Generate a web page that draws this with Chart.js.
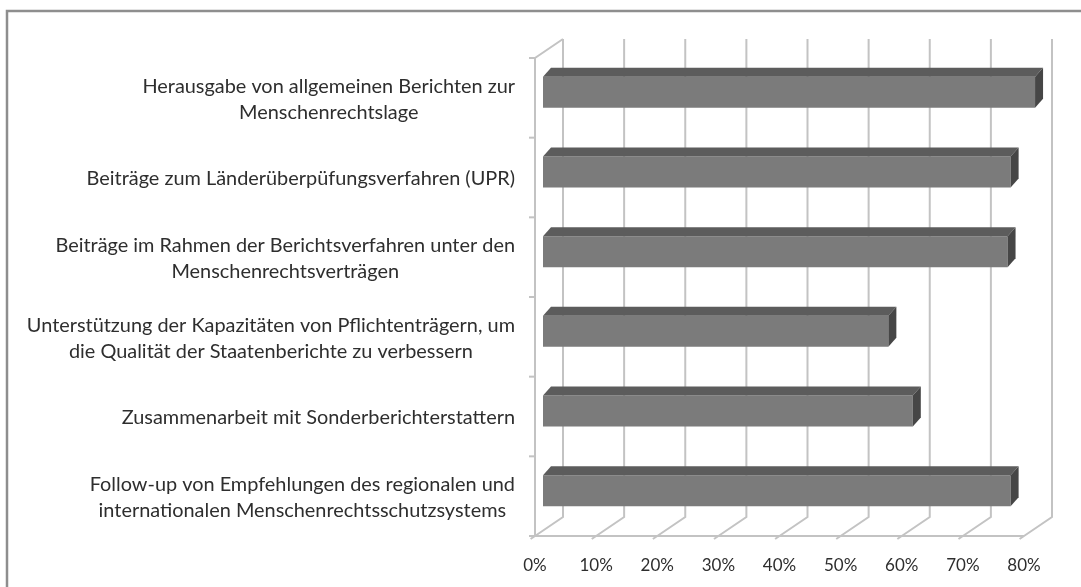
<!DOCTYPE html>
<html><head><meta charset="utf-8">
<script src="https://cdn.jsdelivr.net/npm/chart.js@4.4.0/dist/chart.umd.min.js"></script>
<style>html,body{margin:0;padding:0;background:#fff;} #wrap{position:relative;width:1081px;height:587px;}</style>
</head><body><div id="wrap"><canvas id="c"></canvas></div>
<script>
// ---- data ----
const categories = [
  ["Herausgabe von allgemeinen Berichten zur", "Menschenrechtslage"],
  ["Beiträge zum Länderüberpüfungsverfahren (UPR)"],
  ["Beiträge im Rahmen der Berichtsverfahren unter den", "Menschenrechtsverträgen"],
  ["Unterstützung der Kapazitäten von Pflichtenträgern, um", "die Qualität der Staatenberichte zu verbessern"],
  ["Zusammenarbeit mit Sonderberichterstattern"],
  ["Follow-up von Empfehlungen des regionalen und", "internationalen Menschenrechtsschutzsystems"]
];
const shares = [80.5, 76.5, 76, 56.5, 60.5, 76.5];
const tickValues = [0, 10, 20, 30, 40, 50, 60, 70, 80];
const tickLabels = ["0%", "10%", "20%", "30%", "40%", "50%", "60%", "70%", "80%"];

// ---- geometry / style ----
const FAMILY = 'Lato, "Open Sans", sans-serif';
const FRONT = {x: -8, y: 5.5};     // front plane offset from bar plane
const DEPTH = {x: 28, y: -19};     // full depth of the 3D box
const BARD = {x: 8, y: -9};        // bar depth
const GRID = '#c3c3c3';
const TEXT = '#2e2e2e';

// fit category font so the widest single-line label matches reference width
const mc = document.createElement('canvas').getContext('2d');
mc.font = '100px ' + FAMILY;
const fitW = mc.measureText(categories[1][0]).width;
const CAT_SIZE = Math.round(100 * 429 / fitW * 10) / 10;

const threeD = {
  id: 'threeD',
  beforeDraw(chart) {
    const ctx = chart.ctx;
    ctx.save();
    ctx.strokeStyle = '#8e8e8e';
    ctx.lineWidth = 2.5;
    ctx.beginPath();
    ctx.moveTo(7, 590); ctx.lineTo(7, 11); ctx.lineTo(1085, 11);
    ctx.stroke();
    ctx.restore();
  },
  beforeDatasetsDraw(chart) {
    const {ctx, chartArea: a, scales: {x, y}} = chart;
    ctx.save();
    ctx.strokeStyle = GRID;
    ctx.lineWidth = 2;
    const topB = a.top + FRONT.y + DEPTH.y;
    const botB = a.bottom + FRONT.y + DEPTH.y;
    const botF = a.bottom + FRONT.y;
    tickValues.forEach(v => {
      const px = x.getPixelForValue(v);
      ctx.beginPath();
      ctx.moveTo(px + FRONT.x + DEPTH.x, topB);
      ctx.lineTo(px + FRONT.x + DEPTH.x, botB);
      ctx.lineTo(px + FRONT.x, botF);
      ctx.lineTo(px + FRONT.x - 4.4, botF + 3);
      ctx.stroke();
    });
    // front floor edge
    const x0 = x.getPixelForValue(tickValues[0]) + FRONT.x;
    const x1 = x.getPixelForValue(tickValues[tickValues.length - 1]) + FRONT.x;
    ctx.beginPath();
    ctx.moveTo(x0, botF); ctx.lineTo(x1, botF);
    ctx.stroke();
    // left wall front edge and top
    const topF = a.top + FRONT.y;
    ctx.beginPath();
    ctx.moveTo(x0, botF); ctx.lineTo(x0, topF); ctx.lineTo(x0 + DEPTH.x, topB);
    ctx.stroke();
    // category boundary ticks
    const n = categories.length;
    const band = (a.bottom - a.top) / n;
    for (let k = 0; k <= n; k++) {
      const yb = a.top + k * band + FRONT.y;
      ctx.beginPath();
      ctx.moveTo(x0 - 6, yb); ctx.lineTo(x0, yb);
      ctx.stroke();
    }
    ctx.restore();
  },
  afterDatasetsDraw(chart) {
    const {ctx, scales: {y}} = chart;
    const meta = chart.getDatasetMeta(0);
    ctx.save();
    meta.data.forEach(el => {
      const {x: xe, y: yc, base, height} = el.getProps(['x', 'y', 'base', 'height'], true);
      const top = yc - height / 2, bot = yc + height / 2;
      // top face
      ctx.fillStyle = '#5c5c5c';
      ctx.beginPath();
      ctx.moveTo(base, top); ctx.lineTo(xe, top);
      ctx.lineTo(xe + BARD.x, top + BARD.y); ctx.lineTo(base + BARD.x, top + BARD.y);
      ctx.closePath(); ctx.fill();
      // side face
      ctx.fillStyle = '#464646';
      ctx.beginPath();
      ctx.moveTo(xe, top); ctx.lineTo(xe + BARD.x, top + BARD.y);
      ctx.lineTo(xe + BARD.x, bot + BARD.y); ctx.lineTo(xe, bot);
      ctx.closePath(); ctx.fill();
    });
    // category labels
    ctx.fillStyle = TEXT;
    ctx.font = CAT_SIZE + 'px ' + FAMILY;
    ctx.textAlign = 'center';
    ctx.textBaseline = 'middle';
    const lh = 26;
    categories.forEach((lines, i) => {
      const yc = y.getPixelForValue(i) + FRONT.y + 1.5;
      const maxW = Math.max(...lines.map(s => ctx.measureText(s).width));
      const cx = 515 - maxW / 2;
      const y0 = yc - (lines.length - 1) * lh / 2;
      lines.forEach((s, j) => ctx.fillText(s, cx, y0 + j * lh));
    });
    ctx.restore();
  }
};

new Chart(document.getElementById('c'), {
  type: 'bar',
  data: {
    labels: categories.map(l => l.join(' ')),
    datasets: [{
      data: shares,
      backgroundColor: '#7b7b7b',
      borderWidth: 0,
      categoryPercentage: 1,
      barPercentage: 0.39,
      clip: false
    }]
  },
  options: {
    indexAxis: 'y',
    responsive: true,
    maintainAspectRatio: false,
    animation: false,
    layout: {padding: {top: 52.5, right: 49, left: 0, bottom: 0}},
    plugins: {legend: {display: false}, tooltip: {enabled: false}, title: {display: false}},
    scales: {
      x: {
        min: 0, max: 80,
        grid: {display: false, drawTicks: false},
        border: {display: false},
        afterBuildTicks(scale) { scale.ticks = tickValues.map(v => ({value: v})); },
        afterFit(scale) { scale.height = 56.5; },
        ticks: {
          padding: 24.5,
          labelOffset: FRONT.x,
          color: TEXT,
          font: {family: FAMILY, size: 17, lineHeight: 1.2},
          maxRotation: 0,
          callback: (v) => tickLabels[tickValues.indexOf(v)]
        }
      },
      y: {
        grid: {display: false, drawTicks: false},
        border: {display: false},
        ticks: {display: false},
        afterFit(scale) { scale.width = 543; }
      }
    }
  },
  plugins: [threeD]
});
</script>
</body></html>
